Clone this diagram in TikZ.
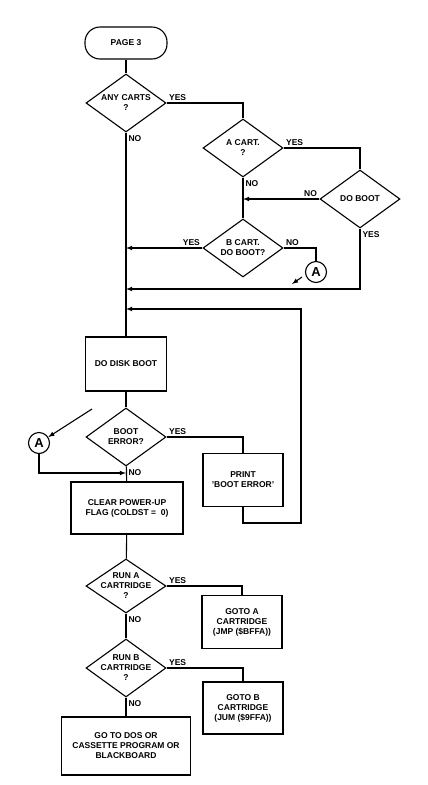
\documentclass[tikz,border=0pt]{standalone}
\usepackage{fontspec}
\setmainfont{Liberation Sans}
\usepackage{tikz}
\usetikzlibrary{shapes.geometric, arrows, calc}

\begin{document}
\begin{tikzpicture}[x=1pt, y=-1pt, line width=1.1pt,
    every node/.style={font=\bfseries\fontsize{8.5}{10}\selectfont, align=center},
    decision/.style={draw, diamond, aspect=1.4, inner sep=-3pt, minimum width=80pt, minimum height=58pt},
    process/.style={draw, rectangle, inner sep=2pt},
    terminal/.style={draw, rectangle, rounded corners=15pt, minimum width=82pt, minimum height=32pt},
    connector/.style={draw, circle, inner sep=0pt, minimum size=21pt, font=\bfseries\fontsize{13}{13}\selectfont},
    lbl/.style={inner sep=2pt}]
      \useasboundingbox (0,0) rectangle (428,785);

      % main column
      \node [terminal] (page) at (126,43) {PAGE 3};
      \node [decision] (anycarts) at (126,103) {ANY CARTS\\?};
      \node [decision] (acart) at (243,148) {A CART.\\?};
      \node [decision] (doboot) at (360,199) {DO BOOT};
      \node [decision] (bcart) at (243,248) {B CART.\\DO BOOT?};
      \node [connector] (A1) at (316,272) {A};
      \node [process, minimum width=81pt, minimum height=54pt] (diskboot) at (126,364) {DO DISK BOOT};
      \node [decision] (booterr) at (126,437) {BOOT\\ERROR?};
      \node [process, minimum width=80pt, minimum height=53pt] (print) at (243,480) {PRINT\\'BOOT ERROR'};
      \node [connector] (A2) at (39,443) {A};
      \node [process, minimum width=112pt, minimum height=52pt] (clear) at (127,508) {CLEAR POWER-UP\\FLAG (COLDST = \ 0)};
      \node [decision, minimum height=54pt] (runa) at (126,586) {RUN A\\CARTRIDGE\\?};
      \node [process, minimum width=80pt, minimum height=53pt] (gotoa) at (242,622) {GOTO A\\CARTRIDGE\\(JMP (\$BFFA))};
      \node [decision] (runb) at (126,668) {RUN B\\CARTRIDGE\\?};
      \node [process, minimum width=80pt, minimum height=52pt] (gotob) at (243,708) {GOTO B\\CARTRIDGE\\(JUM (\$9FFA))};
      \node [process, minimum width=129pt, minimum height=58pt] (dos) at (126,746) {GO TO DOS OR\\CASSETTE PROGRAM OR\\BLACKBOARD};

      % yes / no
      \node [lbl, above right] (y1) at (anycarts.east) {YES};
      \node [lbl, below right] (n1) at (anycarts.south) {NO};
      \node [lbl, above right] (y2) at (acart.east) {YES};
      \node [lbl, below right] (n2) at (acart.south) {NO};
      \node [lbl, above left] (n3) at (doboot.west) {NO};
      \node [lbl, below right] (y3) at (doboot.south) {YES};
      \node [lbl, above left] (y4) at (bcart.west) {YES};
      \node [lbl, above right] (n4) at (bcart.east) {NO};
      \node [lbl, above right] (y5) at (booterr.east) {YES};
      \node [lbl, below right] (n5) at (booterr.south) {NO};
      \node [lbl, above right] (y6) at (runa.east) {YES};
      \node [lbl, below right] (n6) at (runa.south) {NO};
      \node [lbl, above right] (y7) at (runb.east) {YES};
      \node [lbl, below right] (n7) at (runb.south) {NO};

      \coordinate (j1) at (126,289);
      \coordinate (j2) at (126,309);
      \coordinate (j3) at (126,473);
      \coordinate (r1) at (301,523);
      \coordinate (a1s) at (302,277);
      \coordinate (a1e) at (292,284);
      \coordinate (a2s) at (92,409);

      \draw (page) -- (anycarts);
      \draw (anycarts) -- (diskboot);
      \draw (diskboot) -- (booterr);
      \draw (booterr) -- (clear);
      \draw (clear) -- (runa);
      \draw (runa) -- (runb);
      \draw (runb) -- (dos);

      \draw (anycarts.east) -| (acart.north);
      \draw (acart.east) -| (doboot.north);
      \draw (acart.south) -- (bcart.north);
      \draw [-latex] (doboot.west) -- (doboot.west -| acart.south);
      \draw [-latex] (bcart.west) -- (bcart.west -| anycarts.south);
      \draw (bcart.east) -| (A1.north);
      \draw [-latex] (a1s) -- (a1e);
      \draw [-latex] (doboot.south) |- (j1);

      \draw (booterr.east) -| (print.north);
      \draw [-latex] (print.south) |- (r1) |- (j2);
      \draw [-latex] (a2s) -- (A2);
      \draw [-latex] (A2.south) |- (j3);

      \draw (runa.east) -| (gotoa.north);
      \draw (runb.east) -| (gotob.north);
\end{tikzpicture}
\end{document}
